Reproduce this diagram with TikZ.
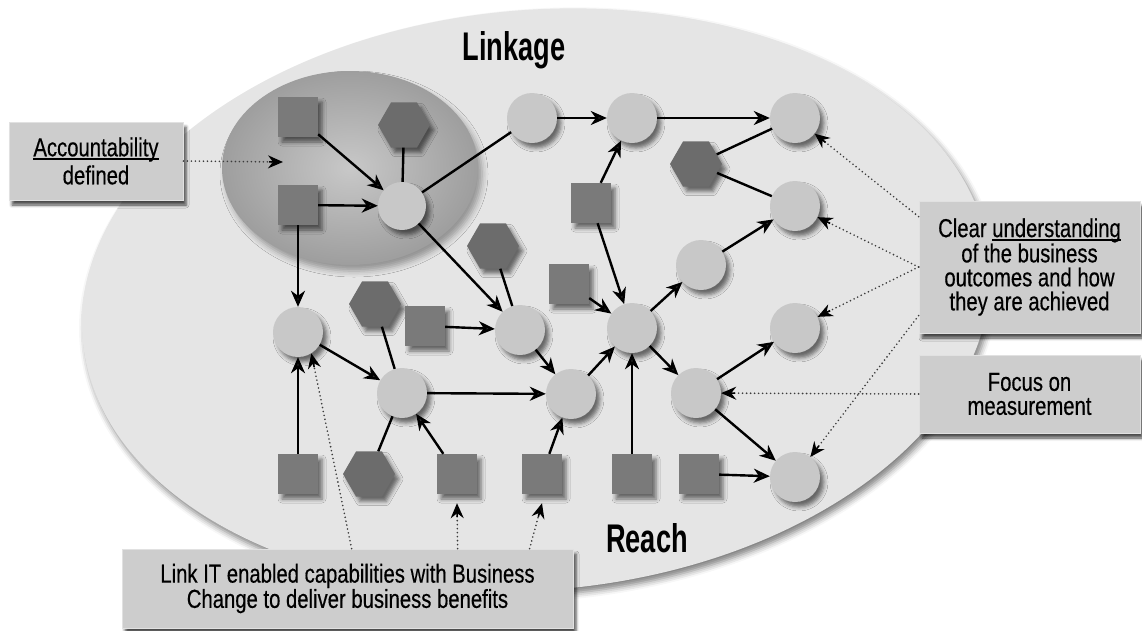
\documentclass[tikz,border=0pt]{standalone}
\usepackage{fontspec}
\setmainfont{Liberation Sans}
\newfontfamily\boxfont{Liberation Sans}[FakeStretch=0.78,FakeBold=0.4]
\newfontfamily\headfont{Liberation Sans}[FakeStretch=0.68]
\usetikzlibrary{shapes.geometric,arrows.meta,shadows.blur,calc}

\definecolor{fieldgray}{RGB}{229,229,229}
\definecolor{zonelight}{RGB}{200,200,200}
\definecolor{zonedark}{RGB}{158,158,158}
\definecolor{squaregray}{RGB}{122,122,122}
\definecolor{hexgray}{RGB}{108,108,108}
\definecolor{ballgray}{RGB}{200,200,200}
\definecolor{boxgray}{RGB}{205,205,205}
\definecolor{boxedge}{RGB}{225,225,225}
\definecolor{dotgray}{RGB}{60,60,60}

% word with a heavy underline
\newcommand\ulword[1]{\leavevmode\setbox0\hbox{#1}\rlap{\rule[-3.8pt]{\wd0}{1.9pt}}\box0}
% dotted pointer with a solid black head
\newcommand\pointer[2]{%
  \draw[dots] (#1) -- (#2) coordinate[pos=1] (ptrend);
  \draw[tipend] ($(ptrend)!14pt!(#1)$) -- (ptrend);}

\begin{document}
\begin{tikzpicture}[x=1pt,y=-1pt,
  softshadow/.style={blur shadow={shadow xshift=4pt,shadow yshift=-5pt,shadow blur radius=4pt,shadow opacity=55}},
  sq/.style={rectangle,minimum size=40pt,inner sep=0pt,fill=squaregray,softshadow},
  hx/.style={regular polygon,regular polygon sides=6,minimum size=52pt,inner sep=0pt,fill=hexgray,softshadow},
  bl/.style={circle,minimum size=50pt,inner sep=0pt,fill=ballgray,softshadow},
  arr/.style={line width=2.4pt,-{Stealth[length=16pt,width=14pt,inset=5pt]}},
  tie/.style={line width=2.4pt},
  dots/.style={draw=dotgray,line width=1.8pt,line cap=round,dash pattern=on 0pt off 4pt,shorten >=8pt},
  tipend/.style={draw=black,line width=1.6pt,-{Stealth[length=15pt,width=13pt,inset=5pt]}},
  notebox/.style={rectangle,inner sep=0pt,fill=boxgray,draw=boxedge,line width=0.8pt,align=center,
    font=\boxfont\fontsize{26}{24}\selectfont,
    blur shadow={shadow xshift=3pt,shadow yshift=-5pt,shadow blur radius=3pt,shadow opacity=70}},
  title/.style={font=\headfont\bfseries\fontsize{40}{42}\selectfont}
]
\useasboundingbox (0,0) rectangle (1142,630);

% the large field and the accountability zone
\begin{scope}[rotate around={5:(536,300)}]
  \fill[fieldgray,blur shadow={shadow xshift=3pt,shadow yshift=-5pt,shadow blur radius=6pt,shadow opacity=50}]
    (536,300) ellipse [x radius=455, y radius=290];
\end{scope}
\shade[inner color=zonelight,outer color=zonedark,
  blur shadow={shadow xshift=4pt,shadow yshift=-6pt,shadow blur radius=6pt,shadow opacity=35}]
  (350,168) ellipse [x radius=128, y radius=97];

% titles
\node[title,anchor=base] (linkage) at (514,60) {Linkage};
\node[title,anchor=base] (reach) at (647,552) {Reach};

% network elements
\node[sq] (S1) at (298,117) {};
\node[sq] (S2) at (298,205) {};
\node[hx] (H1) at (404,125) {};
\node[bl,minimum size=48pt] (C1) at (402,206) {};
\node[bl] (C2) at (532,118) {};
\node[bl] (C3) at (632,118) {};
\node[bl] (C4) at (795,118) {};
\node[hx] (H3) at (696,164) {};
\node[bl] (C5) at (795,206) {};
\node[sq] (S3) at (591,203) {};
\node[hx] (H2) at (493,246) {};
\node[sq] (S4) at (569,284) {};
\node[bl] (C6) at (701,265) {};
\node[hx] (H4) at (375,304) {};
\node[sq] (S5) at (425,326) {};
\node[bl] (C7) at (298,332) {};
\node[bl] (C8) at (520,330) {};
\node[bl] (C9) at (632,328) {};
\node[bl] (C12) at (795,328) {};
\node[bl] (C10) at (402,393) {};
\node[bl] (C11) at (571,394) {};
\node[bl] (C13) at (696,393) {};
\node[sq] (S6) at (298,474) {};
\node[hx] (H5) at (369,474) {};
\node[sq] (S7) at (457,474) {};
\node[sq] (S8) at (542,474) {};
\node[sq] (S9) at (632,474) {};
\node[sq] (S10) at (699,474) {};
\node[bl] (C14) at (795,477) {};

% links between elements
\draw[arr] (S1) -- (C1);
\draw[arr] (S2) -- (C1);
\draw[tie] (H1) -- (C1);
\draw[tie] (C1) -- (C2);
\draw[arr] (C2) -- (C3);
\draw[arr] (C3) -- (C4);
\draw[arr] (C1) -- (C8);
\draw[tie] (H2) -- (C8);
\draw[arr] (S2) -- (C7);
\draw[arr] (S3) -- (C3);
\draw[arr] (S3) -- (C9);
\draw[arr] (S4) -- (C9);
\draw[tie] (H3) -- (C4);
\draw[tie] (H3) -- (C5);
\draw[arr] (C6) -- (C5);
\draw[arr] (C9) -- (C6);
\draw[arr] (S5) -- (C8);
\draw[arr] (C7) -- (C10);
\draw[tie] (H4) -- (C10);
\draw[arr] (C10) -- (C11);
\draw[arr] (C8) -- (C11);
\draw[arr] (C11) -- (C9);
\draw[tie] (H5) -- (C10);
\draw[arr] (S7) -- (C10);
\draw[arr] (S8) -- (C11);
\draw[arr] (S6) -- (C7);
\draw[arr] (S9) -- (C9);
\draw[arr] (C9) -- (C13);
\draw[arr] (C13) -- (C12);
\draw[arr] (C13) -- (C14);
\draw[arr] (S10) -- (C14);

% callout boxes
\node[notebox,minimum width=174pt,minimum height=78pt,font=\boxfont\fontsize{26}{28}\selectfont]
  (acc) at (96,161) {\ulword{Accountability}\\defined};
\node[notebox,minimum width=221pt,minimum height=132pt]
  (clear) at (1029.5,267) {Clear \ulword{understanding}\\of the business\\outcomes and how\\they are achieved};
\node[notebox,minimum width=221pt,minimum height=78pt]
  (focus) at (1029.5,394) {Focus on\\measurement};
\node[notebox,minimum width=451pt,minimum height=79pt,font=\boxfont\fontsize{26}{23}\selectfont]
  (link) at (347.5,588.5) {Link IT enabled capabilities with Business\\Change to deliver business benefits};

% dotted pointers from the callouts
\coordinate (accTip) at (283,162);
\coordinate (cwA) at ([yshift=-16pt]clear.north west);
\coordinate (cwC) at ([yshift=-115pt]clear.north west);
\coordinate (lkA) at ([xshift=230pt]link.north west);
\coordinate (lkB) at ([xshift=336pt]link.north west);
\coordinate (lkC) at ([xshift=408pt]link.north west);

\pointer{acc.east}{accTip}
\pointer{cwA}{C4}
\pointer{clear.west}{C5}
\pointer{clear.west}{C12}
\pointer{cwC}{C14}
\pointer{focus.west}{C13}
\pointer{lkA}{C7.-58}
\pointer{lkB}{[yshift=-9pt]S7.south}
\pointer{lkC}{[yshift=-9pt]S8.south}
\end{tikzpicture}
\end{document}
